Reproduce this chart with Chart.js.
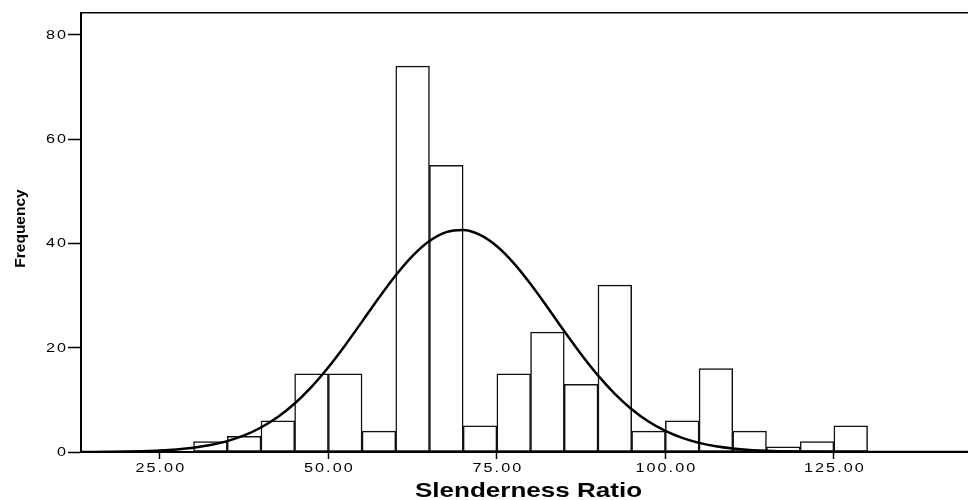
<!DOCTYPE html>
<html>
<head>
<meta charset="utf-8">
<script src="https://cdn.jsdelivr.net/npm/chart.js@4.4.1/dist/chart.umd.min.js"></script>
<style>
  body { margin: 0; background: #fff; }
</style>
</head>
<body>
<canvas id="histChart" width="968" height="500"></canvas>
<script>
// histogram bins (width 5), centre of each bin
const binCenters = [32.5, 37.5, 42.5, 47.5, 52.5, 57.5, 62.5, 67.5, 72.5, 77.5,
                    82.5, 87.5, 92.5, 97.5, 102.5, 107.5, 112.5, 117.5, 122.5, 127.5];
const frequencies = [2, 3, 6, 15, 15, 4, 74, 55, 5, 15, 23, 13, 32, 4, 6, 16, 4, 1, 2, 5];

// normal curve
const curveX = [12.5, 15, 17.5, 20, 22.5, 25, 27.5, 30, 32.5, 35, 37.5, 40, 42.5, 45, 47.5, 50,
                52.5, 55, 57.5, 60, 62.5, 65, 67.5, 70, 72.5, 75, 77.5, 80, 82.5, 85, 87.5, 90,
                92.5, 95, 97.5, 100, 102.5, 105, 107.5, 110, 112.5, 115, 117.5, 120, 122.5, 125,
                127.5, 130, 132.5, 135, 137.5, 140, 142.5, 145];
const curveY = [0.01, 0.02, 0.05, 0.09, 0.16, 0.28, 0.49, 0.82, 1.33, 2.09, 3.18, 4.70, 6.72, 9.31, 12.50, 16.26,
                20.49, 25.01, 29.58, 33.90, 37.63, 40.47, 42.17, 42.57, 41.64, 39.46, 36.23, 32.22, 27.77, 23.18, 18.75, 14.69,
                11.16, 8.21, 5.85, 4.04, 2.70, 1.75, 1.10, 0.67, 0.39, 0.23, 0.12, 0.07, 0.04, 0.02,
                0.01, 0, 0, 0, 0, 0, 0, 0];

const xTicks = [25, 50, 75, 100, 125];
const xTickLabels = ["25.00", "50.00", "75.00", "100.00", "125.00"];
const yTicks = [0, 20, 40, 60, 80];
const yTickLabels = ["0", "20", "40", "60", "80"];

const xTitle = "Slenderness Ratio";
const yTitle = "Frequency";

// draws text stretched sideways like the original export
function stretchText(ctx, text, x, y, align, sx) {
    ctx.save();
    ctx.translate(x, y);
    ctx.scale(sx, 1);
    ctx.textAlign = align;
    ctx.fillText(text, 0, 0);
    ctx.restore();
}

const labelPlugin = {
    id: 'labels',
    afterDraw(chart) {
        const ctx = chart.ctx;
        const xs = chart.scales.x;
        const ys = chart.scales.y;
        const area = chart.chartArea;
        ctx.save();
        ctx.fillStyle = "#000";
        ctx.textBaseline = "alphabetic";
        ctx.font = "12px 'Liberation Sans', Arial, sans-serif";
        try { ctx.letterSpacing = "1.5px"; } catch (e) {}
        xTicks.forEach((v, i) => {
            stretchText(ctx, xTickLabels[i], xs.getPixelForValue(v) + 1, area.bottom + 20, "center", 1.35);
        });
        ctx.textBaseline = "middle";
        yTicks.forEach((v, i) => {
            stretchText(ctx, yTickLabels[i], area.left - 13, ys.getPixelForValue(v) + 0.5, "right", 1.35);
        });
        try { ctx.letterSpacing = "0px"; } catch (e) {}

        ctx.textBaseline = "alphabetic";
        ctx.font = "bold 21px 'Liberation Sans', Arial, sans-serif";
        stretchText(ctx, xTitle, (area.left + area.right) / 2 + 4, 496.5, "center", 1.24);

        ctx.font = "bold 15.5px 'Liberation Sans', Arial, sans-serif";
        ctx.translate(24.5, (area.top + area.bottom) / 2 - 4);
        ctx.rotate(-Math.PI / 2);
        ctx.textAlign = "center";
        ctx.fillText(yTitle, 0, 0);
        ctx.restore();
    }
};

const ctx = document.getElementById("histChart");

let histChart = new Chart(ctx, {
    type: 'bar',
    data: {
        datasets: [
            {
                type: 'line',
                label: "Normal",
                data: curveX.map((x, i) => ({ x: x, y: curveY[i] })),
                borderColor: "#000",
                borderWidth: 2.5,
                pointRadius: 0,
                fill: false,
                cubicInterpolationMode: 'monotone',
                order: 0
            },
            {
                label: "Frequency",
                data: binCenters.map((x, i) => ({ x: x, y: frequencies[i] })),
                backgroundColor: "#fff",
                borderColor: "#111",
                borderWidth: 1.5,
                borderSkipped: false,
                barPercentage: 1.0,
                categoryPercentage: 1.0,
                order: 1
            }
        ]
    },
    options: {
        responsive: false,
        animation: false,
        devicePixelRatio: 1,
        layout: { padding: { top: 13, left: 0, right: 0, bottom: 0 } },
        plugins: {
            legend: { display: false },
            tooltip: { enabled: false }
        },
        scales: {
            x: {
                type: 'linear',
                position: 'bottom',
                min: 13.3,
                max: 144.9,
                offset: false,
                afterBuildTicks: s => { s.ticks = xTicks.map(v => ({ value: v })); },
                afterFit: s => { s.height = 48; },
                ticks: { display: false },
                grid: {
                    offset: false,
                    drawOnChartArea: false,
                    drawTicks: true,
                    tickLength: 7,
                    tickColor: "#000",
                    tickWidth: 1.5
                },
                border: { display: true, color: "#000", width: 2 }
            },
            xTop: {
                type: 'linear',
                position: 'top',
                min: 13.3,
                max: 144.9,
                afterFit: s => { s.height = 0; },
                ticks: { display: false },
                grid: { display: false },
                border: { display: true, color: "#000", width: 1.5 }
            },
            y: {
                min: 0,
                max: 84.2,
                afterBuildTicks: s => { s.ticks = yTicks.map(v => ({ value: v })); },
                afterFit: s => { s.width = 81; },
                ticks: { display: false },
                grid: {
                    drawOnChartArea: false,
                    drawTicks: true,
                    tickLength: 13,
                    tickColor: "#000",
                    tickWidth: 1.5
                },
                border: { display: true, color: "#000", width: 2 }
            }
        }
    },
    plugins: [labelPlugin]
});
</script>
</body>
</html>
